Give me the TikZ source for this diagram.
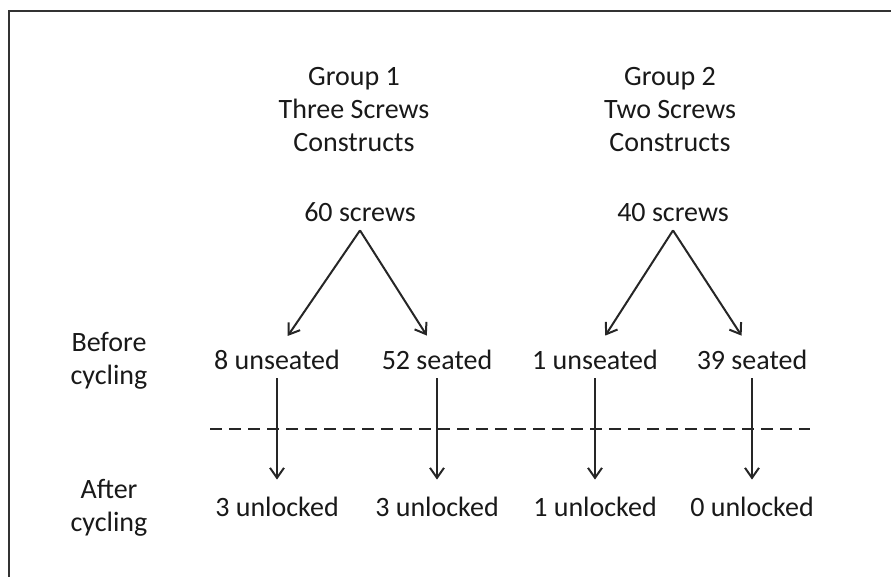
\documentclass[tikz,border=0pt]{standalone}
\usepackage{fontspec}
\setmainfont{Carlito}
\usetikzlibrary{positioning,arrows.meta}
\tikzset{txt/.style={inner sep=0pt,text height=9pt,text depth=0pt,align=center,text=black!90,font=\fontsize{14}{16}\selectfont},
         head/.style={inner sep=0pt,align=center,text=black!90,font=\fontsize{14}{16.5}\selectfont},
         line/.style={-{Straight Barb[length=5pt,width=7pt]},line width=1pt,black!85,shorten <=4pt,shorten >=9.5pt},
         fork/.style={line,shorten <=0pt}
}

\begin{document}
\begin{tikzpicture}[x=0.5pt,y=-0.5pt]
  \useasboundingbox (0,0) rectangle (891,577);
  \draw[black!80,line width=0.6pt] (891,11) -- (9,11) -- (9,577);

  \node[head] (h1) at (354,110) {Group 1\\Three Screws\\Constructs};
  \node[head] (h2) at (670,110) {Group 2\\Two Screws\\Constructs};
  \node[txt] (a) at (360,213) {60 screws};
  \node[txt] (b) at (673,213) {40 screws};
  \node[txt] (c) at (277,361) {8 unseated};
  \node[txt] (d) at (437,361) {52 seated};
  \node[txt] (e) at (595,361) {1 unseated};
  \node[txt] (f) at (752,361) {39 seated};
  \node[txt] (g) at (277,508) {3 unlocked};
  \node[txt] (h) at (437,508) {3 unlocked};
  \node[txt] (i) at (595,508) {1 unlocked};
  \node[txt] (j) at (752,508) {0 unlocked};
  \node[head] (before) at (109,361) {Before\\cycling};
  \node[head] (after) at (109,508) {After\\cycling};

  \draw[dash pattern=on 6pt off 3.5pt,line width=1.2pt,black!85] (210,429) -- (810,429);

  \draw[fork] ([yshift=-4pt]a.south) -- (c.north);
  \draw[fork] ([yshift=-4pt]a.south) -- (d.north);
  \draw[fork] ([yshift=-4pt]b.south) -- (e.north);
  \draw[fork] ([yshift=-4pt]b.south) -- (f.north);
  \draw[line] (c) -- (g);
  \draw[line] (d) -- (h);
  \draw[line] (e) -- (i);
  \draw[line] (f) -- (j);
\end{tikzpicture}
\end{document}
